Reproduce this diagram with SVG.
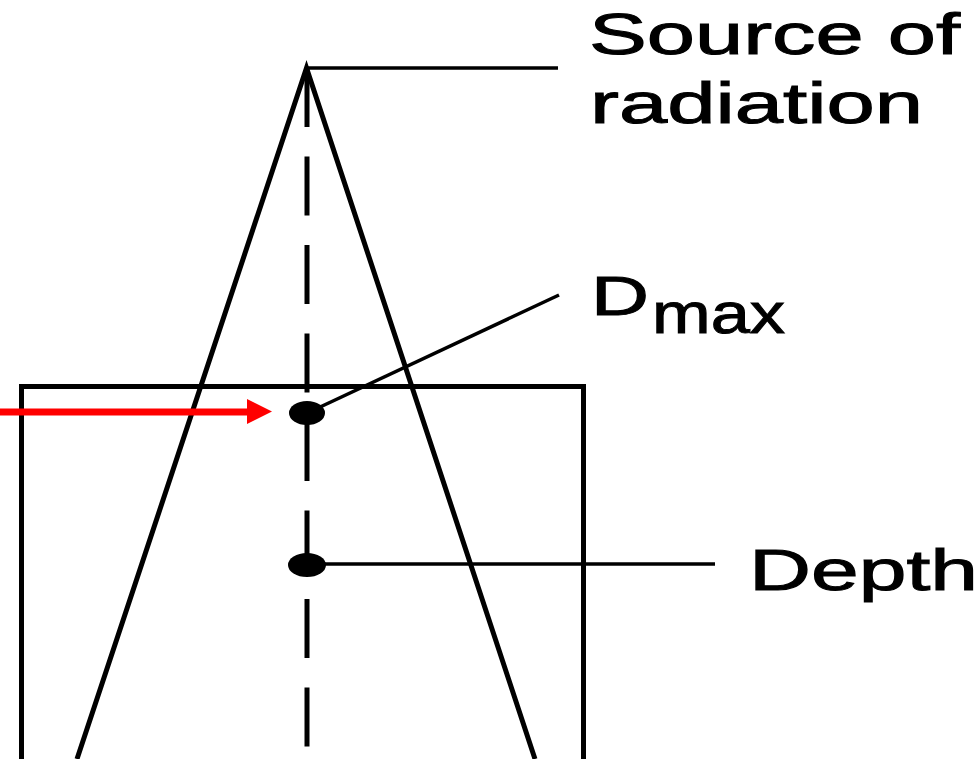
<svg xmlns="http://www.w3.org/2000/svg" width="978" height="759" viewBox="0 0 978 759">
<style>
.ln{stroke:#000;stroke-width:5;fill:none}
.lead{stroke:#000;stroke-width:3.5;fill:none}
.dot{fill:#000}
.lbl{font-family:"Liberation Sans",Arial,sans-serif;fill:#000;stroke:#000;stroke-width:1}
</style>
<rect width="978" height="759" fill="#fff"/>
<g id="phantom">
<path class="ln" d="M21.5,759 V386.5 H583.5 V759"/>
</g>
<g id="beam">
<path class="ln" d="M77,759 L306.5,68 L535,759"/>
<line class="ln" x1="307" y1="68" x2="307" y2="759" stroke-dasharray="59 29.5"/>
</g>
<g id="connectors">
<line class="lead" x1="306" y1="68" x2="558" y2="68"/>
<line class="lead" x1="318" y1="408" x2="559" y2="295"/>
<line class="lead" x1="307" y1="564" x2="715" y2="564"/>
<line x1="0" y1="412" x2="250" y2="412" stroke="#ff0000" stroke-width="7"/>
<polygon points="247,399 272,411.5 247,424" fill="#ff0000"/>
</g>
<g id="dmax-point">
<ellipse class="dot" cx="307" cy="413" rx="18" ry="12"/>
</g>
<g id="depth-point">
<ellipse class="dot" cx="307" cy="565" rx="19" ry="12"/>
</g>
<g id="label-source">
<text class="lbl" x="589" y="54" font-size="58" textLength="371" lengthAdjust="spacingAndGlyphs">Source of</text>
<text class="lbl" x="590" y="123" font-size="58" textLength="333" lengthAdjust="spacingAndGlyphs">radiation</text>
</g>
<g id="label-dmax">
<text class="lbl" x="591" y="315" font-size="56" textLength="58" lengthAdjust="spacingAndGlyphs">D</text>
<text class="lbl" x="652" y="333" font-size="58" textLength="133" lengthAdjust="spacingAndGlyphs">max</text>
</g>
<g id="label-depth">
<text class="lbl" x="749" y="590" font-size="58" textLength="229" lengthAdjust="spacingAndGlyphs">Depth</text>
</g>
</svg>
